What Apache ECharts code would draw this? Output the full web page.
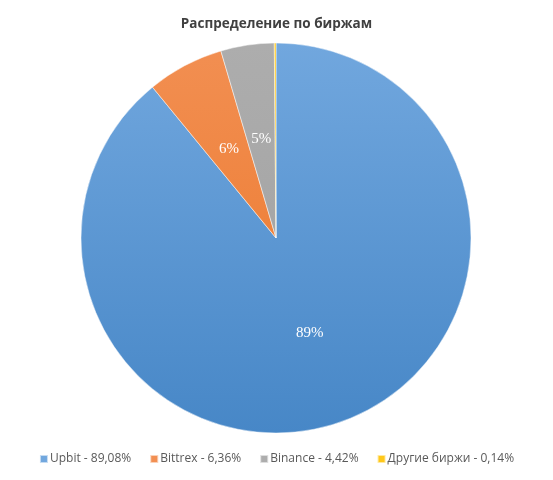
<!DOCTYPE html>
<html><head><meta charset="utf-8">
<script src="https://cdn.jsdelivr.net/npm/echarts@6/dist/echarts.min.js"></script>
<style>html,body{margin:0;padding:0;background:#fff;}#c{width:553px;height:480px;}</style>
</head><body><div id="c"></div>
<script>
const categories = ["Upbit - 89,08%", "Bittrex - 6,36%", "Binance - 4,42%", "Другие биржи - 0,14%"];
const values = [89.08, 6.36, 4.42, 0.14];
const sliceLabels = ["89%", "6%", "5%", ""];
const colorsTop = ["#71a7de", "#f28f52", "#adadad", "#ffc81a"];
const colorsBottom = ["#4787c7", "#eb7628", "#9f9f9f", "#f5b800"];

const chart = echarts.init(document.getElementById('c'));
const cx = 276, cy = 238, r = 195;
chart.setOption({
  animation: false,
  title: {
    text: "Распределение по биржам",
    left: 'center', top: 12,
    textStyle: {fontFamily: 'Open Sans', fontWeight: 'bold', fontSize: 13.5, color: '#404040'}
  },
  legend: {
    bottom: 10, left: 'center',
    icon: 'rect', itemWidth: 8, itemHeight: 8, itemGap: 18,
    textStyle: {fontFamily: 'Open Sans', fontSize: 12, color: '#595959', padding: [0,0,0,-3]},
    data: categories
  },
  series: [{
    type: 'pie',
    center: [cx, cy], radius: r,
    startAngle: 90, clockwise: true,
    label: {
      position: 'inside', color: '#fff', fontFamily: 'Liberation Serif', fontSize: 15,
      formatter: p => sliceLabels[p.dataIndex]
    },
    labelLine: {show: false},
    emphasis: {disabled: true},
    itemStyle: {borderColor: 'rgba(255,255,255,0.6)', borderWidth: 0.8},
    data: categories.map((n, i) => ({
      name: n, value: values[i],
      itemStyle: {
        color: new echarts.graphic.LinearGradient(0, cy - r, 0, cy + r, [
          {offset: 0, color: colorsTop[i]}, {offset: 1, color: colorsBottom[i]}
        ], true)
      }
    }))
  }]
});
</script></body></html>
